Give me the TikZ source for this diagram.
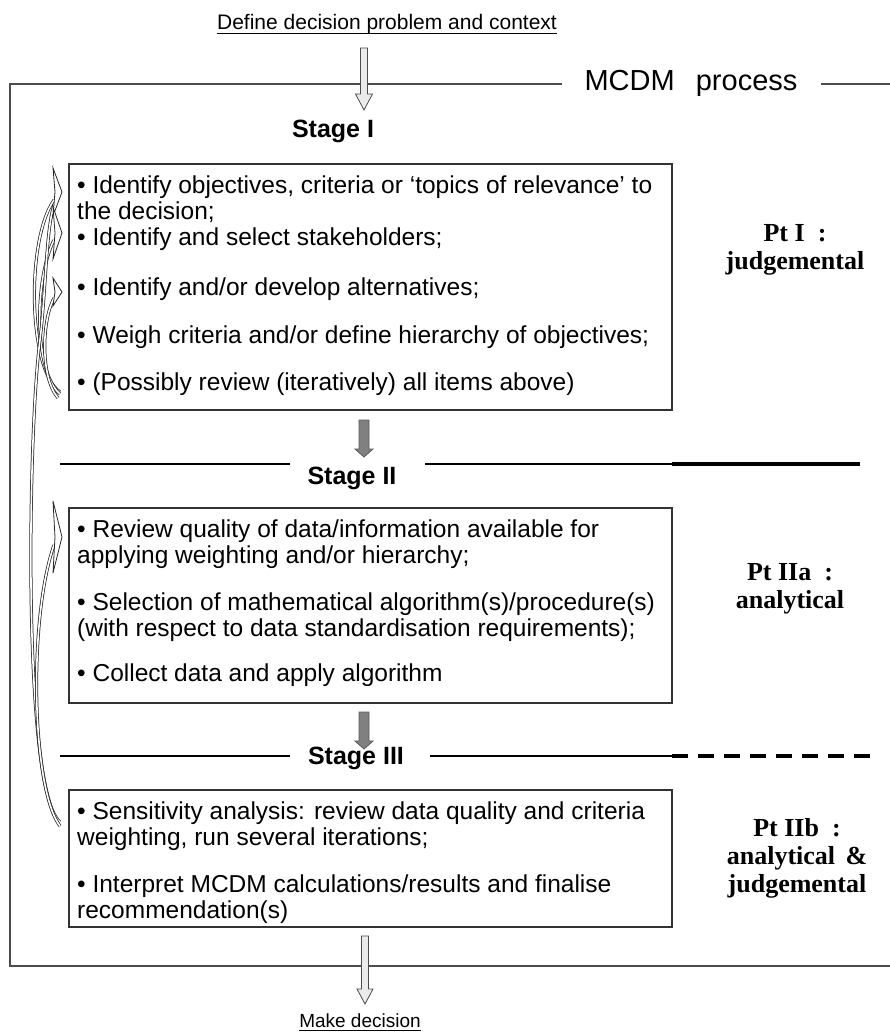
\documentclass[tikz,border=0pt]{standalone}
\usepackage{fontspec}
\setmainfont{Liberation Sans}
\newfontfamily\tnr{Liberation Serif}
\usetikzlibrary{calc}
\newcommand\vblockarrow[6]{%
  \path[#6] ($(#1)+(-#3,0)$) -- ($(#2)+(-#3,-#5)$) -- ($(#2)+(-#4,-#5)$) -- (#2)
    -- ($(#2)+(#4,-#5)$) -- ($(#2)+(#3,-#5)$) -- ($(#1)+(#3,0)$) -- cycle;}
\newcommand\fbhead[3]{% tip name, half height, style
  \path[#3] ($(#1)+(-9,-#2)$) -- (#1) -- ($(#1)+(-9,#2)$) -- ($(#1)+(-7,0)$) -- cycle;}
\begin{document}
\begin{tikzpicture}[x=1pt,y=-1pt,
  box/.style={draw=black!80, line width=1.1pt, minimum width=603pt, inner sep=0pt},
  btext/.style={anchor=north west, inner sep=0pt, align=left, font=\fontsize{24.5}{26}\selectfont},
  stagelbl/.style={font=\fontsize{25}{28}\selectfont\bfseries, inner sep=0pt},
  ptlbl/.style={font=\tnr\bfseries\fontsize{26}{28}\selectfont, align=center, inner sep=0pt},
  sline/.style={line width=1.2pt, draw=black},
  frame/.style={line width=1.2pt, draw=black!70},
  hollow/.style={draw=black!70, line width=0.8pt, fill=black!8},
  grayarr/.style={draw=black!65, line width=0.8pt, fill=black!50},
  fbk/.style={draw=black!85, line width=0.75pt, double=white, double distance=1.6pt},
  fbh/.style={draw=black!85, line width=0.8pt, fill=white}
]
\useasboundingbox (0,0) rectangle (890,1032);

% title
\node[anchor=base, font=\fontsize{21}{24}\selectfont, inner sep=0pt] (title) at (387,30) {Define decision problem and context};
\draw[line width=0.8pt] ($(title.base west)+(0,3)$) -- ($(title.base east)+(0,3)$);

% outer frame
\node[font=\fontsize{29}{32}\selectfont, inner sep=0pt] (mcdm) at (691,83) {MCDM\hspace{0.45em} process};
\draw[frame] (562,84) -- (10,84) -- (10,966) -- (890,966);
\draw[frame] (821,84) -- (890,84);

% top arrow
\coordinate (ta1) at (364,48);
\coordinate (ta2) at (364,110);
\vblockarrow{ta1}{ta2}{3.5}{8.5}{16}{hollow}

% stage I
\node[stagelbl] (s1) at (333,131) {Stage I};
\node[box, minimum height=246pt] (b1) at (370.5,287) {};
\node[btext] (t1) at (77,176) {• Identify objectives, criteria or ‘topics of relevance’ to\\
the decision;\\
• Identify and select stakeholders;\\[24pt]
• Identify and/or develop alternatives;\\[22pt]
• Weigh criteria and/or define hierarchy of objectives;\\[21pt]
• (Possibly review (iteratively) all items above)};

% arrow I -> II
\coordinate (ga1) at (364,420);
\coordinate (ga2) at (364,457);
\vblockarrow{ga1}{ga2}{5}{9}{8}{grayarr}

% stage II
\node[stagelbl] (s2) at (352,478) {Stage II};
\draw[sline] (60,464) -- (290,464);
\draw[sline] (425,464) -- (672,464);
\draw[line width=4pt] (672,464) -- (860,464);
\node[box, minimum height=195pt] (b2) at (370.5,605.5) {};
\node[btext] (t2) at (77,520) {• Review quality of data/information available for\\
applying weighting and/or hierarchy;\\[21pt]
• Selection of mathematical algorithm(s)/procedure(s)\\
(with respect to data standardisation requirements);\\[19pt]
• Collect data and apply algorithm};

% arrow II -> III
\coordinate (gb1) at (364,712);
\coordinate (gb2) at (364,749);
\vblockarrow{gb1}{gb2}{5}{9}{8}{grayarr}

% stage III
\node[stagelbl] (s3) at (356,758) {Stage III};
\draw[sline] (60,756) -- (290,756);
\draw[sline] (430,756) -- (672,756);
\draw[line width=3.5pt, dash pattern=on 16pt off 10pt] (672,756) -- (870,756);
\node[box, minimum height=137pt] (b3) at (370.5,858.5) {};
\node[btext] (t3) at (77,802) {• Sensitivity analysis: review data quality and criteria\\
weighting, run several iterations;\\[21pt]
• Interpret MCDM calculations/results and finalise\\
recommendation(s)};

% bottom arrow
\coordinate (ba1) at (365,936);
\coordinate (ba2) at (365,1004);
\vblockarrow{ba1}{ba2}{3.5}{8}{15}{hollow}
\node[anchor=base, font=\fontsize{19}{22}\selectfont, inner sep=0pt] (md) at (360,1027) {Make decision};
\draw[line width=0.8pt] ($(md.base west)+(0,3)$) -- ($(md.base east)+(0,3)$);

% right labels
\node[ptlbl] (p1) at (795,250) {Pt I\hspace{0.5em}:\\judgemental};
\node[ptlbl] (p2) at (790,589) {Pt IIa\hspace{0.5em}:\\analytical};
\node[ptlbl] (p3) at (797,858) {Pt IIb\hspace{0.5em}:\\analytical\hspace{0.4em}\&\\judgemental};

% feedback arrows
\coordinate (h1) at (62,192);
\coordinate (h2) at (62,233);
\coordinate (h3) at (62,292);
\coordinate (h4) at (62,537);
\coordinate (tI) at (60,392);
\coordinate (tIII) at (60,822);
\draw[fbk] (tI) .. controls (28,370) and (26,240) .. (54,200);
\draw[fbk] ($(tI)+(0,2)$) .. controls (34,372) and (34,280) .. (54,240);
\draw[fbk] ($(tI)+(-2,6)$) .. controls (40,377) and (42,320) .. (54,298);
\draw[fbk] (tIII) .. controls (22,790) and (28,430) .. (40,340) .. controls (46,290) and (46,230) .. (54,205);
\draw[fbk] ($(tIII)+(0,4)$) .. controls (32,790) and (28,620) .. (54,545);
\fbhead{h1}{24}{fbh}
\fbhead{h2}{26}{fbh}
\fbhead{h3}{14}{fbh}
\fbhead{h4}{36}{fbh}
\end{tikzpicture}
\end{document}
